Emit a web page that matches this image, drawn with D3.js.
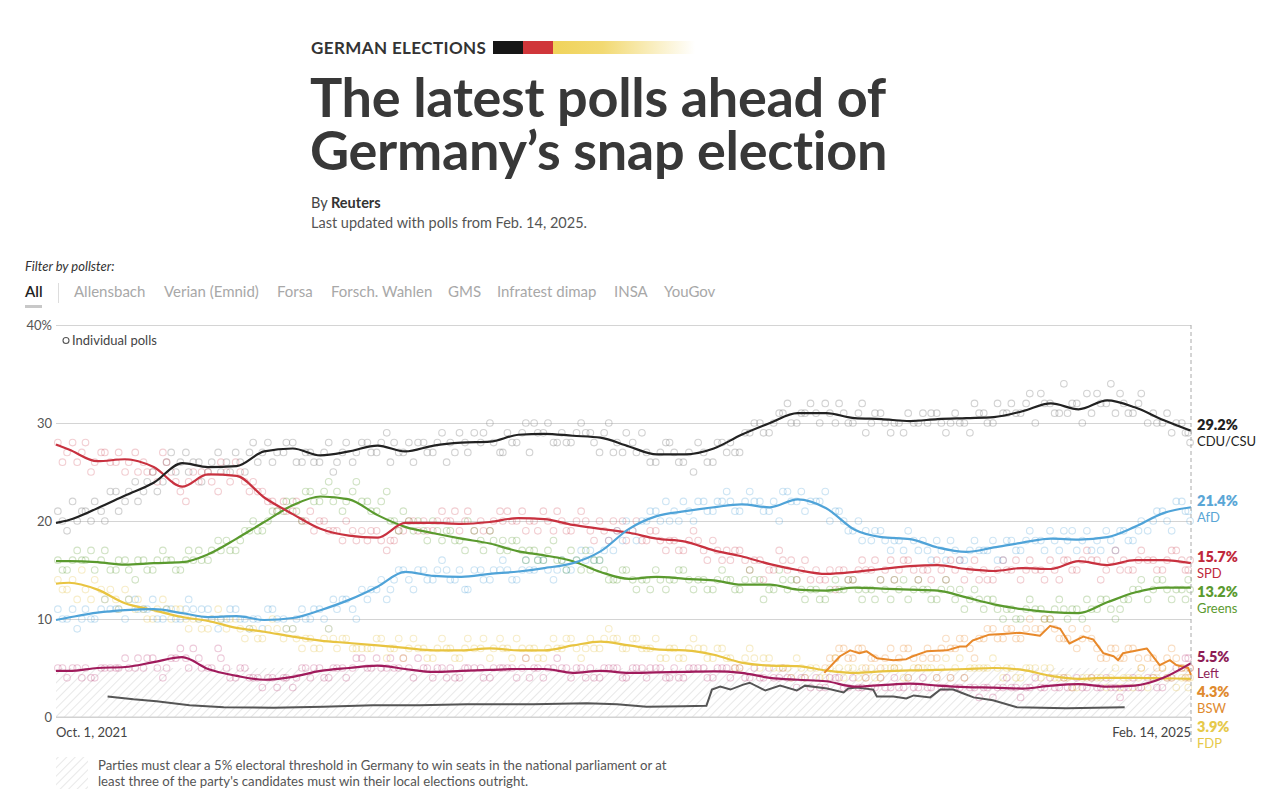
<!DOCTYPE html>
<html><head><meta charset="utf-8">
<script src="https://cdn.jsdelivr.net/npm/d3@7"></script>
<style>
body{margin:0;background:#fff;}
svg{display:block;font-family:Lato,"Open Sans",sans-serif;}
</style></head><body>
<svg id="chart" width="1280" height="811"></svg>
<script>
// ---------- DATA ----------
const parties = ["CDU/CSU","AfD","SPD","Greens","Left","BSW","FDP"];
const endValues = [29.2, 21.4, 15.7, 13.2, 5.5, 4.3, 3.9];
const yTicks = [0,10,20,30,40];
const xTickLabels = ["Oct. 1, 2021","Feb. 14, 2025"];
const pollsters = ["Allensbach","Verian (Emnid)","Forsa","Forsch. Wahlen","GMS","Infratest dimap","INSA","YouGov"];

const trendDates = ["2021-10-01","2021-10-15","2021-11-15","2021-12-15","2022-01-15","2022-02-15","2022-03-15","2022-04-15","2022-05-15","2022-06-15","2022-07-15","2022-08-15","2022-09-15","2022-10-15","2022-11-15","2022-12-15","2023-01-15","2023-02-15","2023-03-15","2023-04-15","2023-05-15","2023-06-15","2023-07-15","2023-08-15","2023-09-15","2023-10-15","2023-11-15","2023-12-15","2024-01-15","2024-02-15","2024-03-15","2024-04-15","2024-05-15","2024-06-15","2024-07-15","2024-08-15","2024-09-15","2024-10-15","2024-11-15","2024-12-15","2025-01-15","2025-02-14"];
const cduTrend = [19.8,20.1,21.3,22.6,23.9,25.9,25.5,25.6,27.1,27.4,26.7,27.1,27.7,27.1,27.7,28.0,28.1,28.8,28.9,28.7,28.5,27.6,26.8,26.8,27.4,28.8,30.0,31.0,31.0,30.5,30.4,30.2,30.4,30.5,30.6,31.2,32.0,31.4,32.3,31.6,30.3,29.2];
const afdTrend = [9.9,10.15,10.65,10.9,11.0,10.6,10.2,10.3,9.9,10.1,10.9,11.95,13.3,14.8,14.4,14.3,14.6,14.85,15.2,15.7,16.9,19.2,20.5,21.0,21.4,21.7,21.4,22.2,21.3,19.1,18.35,18.15,17.3,16.85,17.3,17.8,18.2,18.1,18.35,19.4,20.8,21.4];
const spdTrend = [27.8,27.3,26.1,26.3,25.5,23.5,24.75,24.6,22.4,20.7,19.2,18.5,18.3,19.8,19.8,19.7,19.9,20.3,20.2,19.6,19.2,18.8,18.2,17.9,17.0,16.4,15.6,15.0,14.6,14.8,15.1,15.4,15.5,15.1,14.9,15.2,15.1,15.9,15.5,16.0,16.0,15.7];
const greensTrend = [15.9,15.9,15.8,15.55,15.7,15.8,16.6,18.2,19.9,21.6,22.5,22.2,20.6,19.4,18.75,18.2,17.7,16.9,16.5,15.9,14.8,14.1,14.3,14.1,13.95,13.5,13.5,13.0,12.9,13.2,13.1,13.0,12.9,12.2,11.5,11.0,10.7,10.6,11.7,12.7,13.2,13.2];
const fdpTrend = [13.6,13.7,13.0,11.6,10.9,10.2,9.8,9.1,8.7,8.2,7.8,7.55,7.3,7.05,6.8,6.8,7.0,6.8,6.8,7.3,7.7,7.3,6.9,6.8,6.35,5.55,5.25,5.2,4.75,4.5,4.65,4.75,4.8,4.9,5.0,4.8,4.2,3.9,4.0,4.0,3.95,3.9];
const leftTrend = [4.7,4.7,5.0,5.1,5.6,6.1,4.9,4.2,3.8,4.1,4.7,5.0,5.25,4.9,4.6,4.7,4.8,4.9,4.9,4.5,4.7,4.5,4.55,4.6,4.65,4.5,4.0,3.8,3.65,3.1,3.25,3.4,3.2,3.05,3.0,2.9,3.2,3.35,3.1,3.2,4.0,5.5];

const bswDates = ["2024-01-13","2024-01-30","2024-02-10","2024-02-20","2024-02-28","2024-03-10","2024-03-28","2024-04-11","2024-04-18","2024-05-03","2024-05-25","2024-06-08","2024-06-15","2024-06-22","2024-07-10","2024-07-29","2024-08-12","2024-08-27","2024-09-03","2024-09-14","2024-09-25","2024-10-05","2024-10-20","2024-10-31","2024-11-11","2024-11-22","2024-11-27","2024-12-02","2024-12-28","2025-01-11","2025-01-22","2025-01-29","2025-02-11","2025-02-14"];
const bswTrend = [4.5,6.2,6.8,6.5,6.7,6.0,5.8,5.9,6.2,6.7,6.8,7.2,7.2,7.8,8.4,8.5,8.6,8.4,8.3,9.3,9.0,7.5,8.2,7.9,6.5,6.2,5.8,6.5,7.0,5.3,5.8,5.3,5.0,4.3];

const otherDates = ["2021-11-26","2021-12-24","2022-01-18","2022-02-23","2022-04-01","2022-05-25","2022-07-18","2022-09-10","2022-10-31","2022-12-21","2023-03-03","2023-04-30","2023-06-02","2023-07-04","2023-08-13","2023-09-07","2023-09-13","2023-09-22","2023-10-03","2023-10-17","2023-10-24","2023-11-10","2023-11-26","2023-12-14","2023-12-23","2024-01-16","2024-02-03","2024-02-08","2024-02-17","2024-03-06","2024-03-10","2024-03-28","2024-04-11","2024-04-19","2024-05-07","2024-05-18","2024-06-01","2024-06-12","2024-06-23","2024-07-14","2024-08-09","2024-10-02","2024-12-04"];
const otherTrend = [2.1,1.8,1.6,1.2,1.0,0.95,1.05,1.2,1.2,1.3,1.3,1.4,1.3,1.05,1.1,1.15,2.8,3.1,2.8,3.3,3.5,2.7,3.2,2.7,3.2,2.9,2.5,2.9,3.0,2.8,2.1,2.1,1.9,2.2,2.0,2.8,2.8,2.4,2.0,1.7,1.0,0.9,1.0];

// individual polls, batch A
const pollDates = ["2021-10-03","2021-10-13","2021-10-24","2021-11-02","2021-11-12","2021-11-23","2021-12-05","2021-12-15","2021-12-26","2022-01-04","2022-01-14","2022-01-25","2022-02-03","2022-02-13","2022-02-22","2022-03-05","2022-03-15","2022-03-26","2022-04-04","2022-04-14","2022-04-24","2022-05-03","2022-05-13","2022-05-24","2022-06-05","2022-06-15","2022-06-25","2022-07-04","2022-07-14","2022-07-24","2022-08-02","2022-08-12","2022-08-23","2022-09-04","2022-09-14","2022-09-25","2022-10-03","2022-10-13","2022-10-24","2022-11-04","2022-11-14","2022-11-24","2022-12-03","2022-12-13","2022-12-22","2023-01-05","2023-01-15","2023-01-26","2023-02-03","2023-02-13","2023-02-23","2023-03-04","2023-03-14","2023-03-25","2023-04-03","2023-04-13","2023-04-24","2023-05-04","2023-05-14","2023-05-24","2023-06-02","2023-06-12","2023-06-23","2023-07-04","2023-07-14","2023-07-25","2023-08-03","2023-08-13","2023-08-24","2023-09-04","2023-09-14","2023-09-24","2023-10-03","2023-10-13","2023-10-24","2023-11-04","2023-11-14","2023-11-25","2023-12-04","2023-12-14","2023-12-23","2024-01-04","2024-01-14","2024-01-25","2024-02-03","2024-02-13","2024-02-23","2024-03-04","2024-03-14","2024-03-25","2024-04-03","2024-04-13","2024-04-24","2024-05-04","2024-05-14","2024-05-24","2024-06-03","2024-06-13","2024-06-24","2024-07-04","2024-07-14","2024-07-25","2024-08-03","2024-08-13","2024-08-23","2024-09-04","2024-09-14","2024-09-24","2024-10-03","2024-10-13","2024-10-24","2024-11-04","2024-11-14","2024-11-24","2024-12-03","2024-12-13","2024-12-22","2025-01-04","2025-01-14","2025-01-24","2025-02-04","2025-02-11"];
const cduPolls = [21,19,20, 21,22,20, 23,22,24, 23,25,24, 27,26,25, 26,25,27, 26,27,25, 28,27,26, 27,28,26, 27,26,28, 26,28,27, 28,27,29, 28,27,26, 28,27,29, 28,29,27, 28,30,27, 29,28,30, 30,29,28, 29,28,30, 29,27,30, 28,29,27, 27,26,28, 27,26,25, 27,26,28, 28,27,29, 30,29,31, 32,30,31, 31,32,30, 31,30,32, 30,31,29, 30,31,30, 30,31,29, 31,30,32, 31,30,31, 32,31,33, 33,32,31, 31,32,33, 33,32,31, 32,31,33, 31,30,29, 30,29];
const afdPolls = [11,10,9, 11,10,12, 11,10,12, 11,12,10, 11,10,12, 10,11,9, 10,11,10, 10,9,11, 10,9,11, 10,11,9, 11,12,10, 12,13,12, 14,15,13, 15,14,16, 14,15,13, 15,14,15, 15,14,16, 15,16,14, 16,15,17, 17,16,18, 19,20,18, 20,21,22, 21,22,20, 22,21,22, 22,21,23, 22,21,20, 23,22,21, 22,23,21, 20,19,18, 18,19,17, 18,19,17, 17,18,16, 17,16,18, 17,18,16, 18,17,19, 18,19,17, 18,17,19, 18,19,17, 19,18,20, 20,21,19, 22,21];
const spdPolls = [28,27,26, 28,26,27, 26,25,27, 26,25,27, 25,23,24, 24,25,23, 25,26,24, 24,23,22, 22,21,20, 21,20,19, 19,20,18, 18,19,17, 18,19,20, 20,19,21, 20,19,21, 20,19,21, 21,20,19, 20,21,19, 20,19,21, 19,20,18, 19,18,20, 18,19,17, 18,17,19, 17,18,16, 16,17,15, 16,15,17, 15,14,16, 15,14,13, 15,14,16, 15,14,16, 15,16,14, 15,16,14, 15,14,16, 15,14,16, 15,14,16, 15,16,14, 16,15,17, 16,15,17, 16,15,17, 16,15,17, 16,15];
const greensPolls = [16,15,17, 16,15,17, 15,16,14, 16,15,17, 16,15,17, 17,16,18, 18,17,19, 20,19,21, 21,22,20, 23,22,24, 23,22,24, 22,21,23, 20,21,19, 19,20,18, 19,18,20, 18,19,17, 17,18,16, 17,16,18, 16,17,15, 15,16,14, 14,15,13, 14,15,13, 14,15,13, 14,13,15, 14,13,15, 14,13,15, 13,14,12, 13,12,14, 13,14,12, 13,14,12, 13,12,14, 13,12,14, 12,11,13, 11,12,10, 11,10,12, 11,10,12, 10,11,12, 11,12,10, 12,13,14, 13,14,12, 13,14];
const fdpPolls = [14,13,12, 13,14,12, 12,13,11, 11,10,12, 10,11,9, 10,9,11, 9,10,8, 9,8,10, 8,9,7, 8,7,9, 7,8,7, 7,8,6, 7,6,8, 7,6,8, 7,6,8, 7,6,8, 7,8,6, 7,6,8, 7,8,6, 8,7,9, 8,7,8, 7,8,6, 7,6,8, 7,6,7, 6,5,7, 5,6,5, 5,6,4, 5,4,6, 4,5,5, 5,4,5, 5,4,5, 5,4,6, 5,4,5, 5,6,4, 5,4,5, 4,5,4, 4,3,4, 4,3,5, 4,3,5, 4,5,4, 4,3];
const leftPolls = [5,4,5, 5,4,5, 5,6,5, 5,6,4, 6,7,5, 6,5,7, 5,4,5, 4,3,4, 4,3,5, 4,5,4, 5,4,6, 5,6,5, 5,6,4, 5,4,5, 5,4,5, 5,4,5, 5,4,6, 5,4,5, 5,4,5, 5,4,5, 5,4,5, 4,5,4, 5,4,5, 5,4,5, 4,5,4, 4,5,4, 4,3,4, 4,3,4, 3,4,3, 3,4,3, 3,4,3, 3,4,3, 3,4,3, 3,2,3, 3,2,3, 3,4,3, 3,4,3, 3,4,3, 3,4,3, 4,3,4, 5,6];
const bswPolls = [null,null,null, null,null,null, null,null,null, null,null,null, null,null,null, null,null,null, null,null,null, null,null,null, null,null,null, null,null,null, null,null,null, null,null,null, null,null,null, null,null,null, null,null,null, null,null,null, null,null,null, null,null,null, null,null,null, null,null,null, null,null,null, null,null,null, null,null,null, null,null,null, null,null,null, null,null,null, null,null,null, null,5,6, 7,6,7, 6,5,7, 6,7,5, 7,6,8, 7,8,6, 8,9,8, 9,8,10, 9,10,8, 8,7,9, 7,6,7, 6,7,5, 6,5,7, 5,4];

// individual polls, batch B
const pollDates2 = ["2021-10-08","2021-10-19","2021-10-29","2021-11-08","2021-11-19","2021-11-29","2021-12-08","2021-12-19","2021-12-29","2022-01-08","2022-01-19","2022-01-29","2022-02-08","2022-02-19","2022-02-27","2022-03-08","2022-03-19","2022-03-29","2022-04-08","2022-04-19","2022-04-29","2022-05-08","2022-05-19","2022-05-29","2022-06-08","2022-06-19","2022-06-29","2022-07-08","2022-07-19","2022-07-29","2022-08-08","2022-08-19","2022-08-29","2022-09-08","2022-09-19","2022-09-29","2022-10-08","2022-10-19","2022-10-29","2022-11-08","2022-11-19","2022-11-29","2022-12-08","2022-12-19","2022-12-29","2023-01-08","2023-01-19","2023-01-29","2023-02-08","2023-02-19","2023-02-27","2023-03-08","2023-03-19","2023-03-29","2023-04-08","2023-04-19","2023-04-29","2023-05-08","2023-05-19","2023-05-29","2023-06-08","2023-06-19","2023-06-29","2023-07-08","2023-07-19","2023-07-29","2023-08-08","2023-08-19","2023-08-29","2023-09-08","2023-09-19","2023-09-29","2023-10-08","2023-10-19","2023-10-29","2023-11-08","2023-11-19","2023-11-29","2023-12-08","2023-12-19","2023-12-29","2024-01-08","2024-01-19","2024-01-29","2024-02-08","2024-02-19","2024-02-27","2024-03-08","2024-03-19","2024-03-29","2024-04-08","2024-04-19","2024-04-29","2024-05-08","2024-05-19","2024-05-29","2024-06-08","2024-06-19","2024-06-29","2024-07-08","2024-07-19","2024-07-29","2024-08-08","2024-08-19","2024-08-29","2024-09-08","2024-09-19","2024-09-29","2024-10-08","2024-10-19","2024-10-29","2024-11-08","2024-11-19","2024-11-29","2024-12-08","2024-12-19","2024-12-29","2025-01-08","2025-01-19","2025-01-29","2025-02-08","2025-02-13"];
const cduPolls2 = [20,22,21, 20,21,23, 21,23,22, 24,23,26, 25,27,26, 24,26,25, 25,26,27, 26,28,27, 28,26,27, 26,27,25, 27,26,28, 27,28,26, 27,28,28, 27,28,26, 27,28,29, 29,28,27, 28,29,27, 29,30,28, 28,29,29, 28,29,27, 27,28,29, 26,27,28, 26,27,28, 26,28,27, 27,29,30, 29,30,31, 30,31,32, 30,31,32, 30,31,29, 31,30,30, 29,30,31, 31,30,30, 30,29,31, 30,32,31, 31,32,30, 32,31,34, 32,30,31, 32,34,33, 31,32,30, 30,31,30, 29,28];
const afdPolls2 = [10,11,10, 10,11,11, 11,12,11, 11,10,11, 10,11,11, 11,10,10, 11,10,9, 10,11,10, 9,10,10, 11,10,12, 12,11,13, 13,14,13, 15,14,15, 14,15,15, 14,13,15, 14,15,16, 14,15,15, 16,15,15, 15,16,16, 16,17,17, 18,19,20, 21,20,20, 20,21,22, 21,22,23, 21,22,22, 21,22,23, 22,23,22, 22,20,21, 19,20,19, 19,18,18, 17,18,18, 16,17,18, 16,17,17, 17,16,18, 17,18,18, 17,18,19, 19,18,17, 17,18,19, 18,19,19, 21,20,22, 21,20];
const spdPolls2 = [26,28,27, 25,27,26, 27,26,25, 25,24,26, 24,22,25, 25,24,26, 24,25,23, 23,22,21, 21,22,20, 19,20,19, 18,19,19, 19,18,18, 19,20,19, 19,20,20, 21,20,19, 19,20,20, 20,21,20, 19,20,21, 19,20,20, 18,19,20, 20,19,18, 19,18,18, 17,18,18, 16,17,17, 17,16,16, 14,15,16, 16,15,14, 14,15,15, 14,15,15, 16,15,14, 16,15,15, 14,15,16, 16,15,14, 14,15,15, 16,15,15, 14,15,16, 15,16,16, 14,16,15, 15,16,16, 15,16,17, 15,16];
const greensPolls2 = [15,16,16, 17,16,15, 16,15,16, 15,16,16, 15,16,16, 16,17,17, 17,18,19, 19,20,21, 22,21,23, 22,23,22, 21,23,22, 21,22,20, 19,20,20, 18,19,19, 18,17,19, 17,18,18, 18,17,17, 16,17,16, 15,16,17, 16,15,14, 15,14,14, 13,14,14, 15,14,14, 13,14,14, 13,14,14, 12,13,14, 14,13,13, 12,13,13, 14,13,13, 12,13,14, 14,13,13, 12,13,13, 13,12,12, 12,11,11, 10,11,11, 10,11,11, 11,10,11, 12,11,11, 12,13,12, 14,13,13, 12,13];
const fdpPolls2 = [13,14,15, 12,13,13, 11,12,12, 10,11,11, 11,10,10, 9,10,10, 10,9,9, 8,9,9, 9,8,8, 7,8,8, 8,7,7, 7,8,7, 8,7,7, 6,7,7, 6,7,7, 8,7,7, 6,7,7, 6,7,7, 8,7,7, 7,8,8, 7,8,7, 7,6,7, 6,7,7, 6,7,6, 5,6,6, 6,5,5, 4,5,5, 4,5,5, 5,4,4, 4,5,5, 4,5,5, 5,5,4, 6,5,5, 5,5,5, 4,5,5, 5,4,4, 3,4,4, 4,4,3, 4,4,3, 4,4,3, 5,4];
const leftPolls2 = [5,5,4, 4,5,5, 5,5,6, 6,5,5, 6,6,7, 5,5,6, 4,5,4, 4,4,3, 4,4,5, 5,4,5, 5,5,6, 5,5,6, 5,5,6, 5,5,4, 4,5,5, 4,5,5, 5,5,4, 5,5,6, 5,5,4, 4,5,5, 4,5,5, 5,5,4, 4,5,5, 4,5,5, 5,4,5, 4,4,5, 4,4,3, 3,4,4, 3,3,4, 3,3,4, 3,3,4, 3,3,4, 3,3,2, 3,3,4, 3,3,4, 3,3,4, 3,3,4, 3,3,2, 3,3,4, 3,4,5, 6,5];
const bswPolls2 = [null,null,null, null,null,null, null,null,null, null,null,null, null,null,null, null,null,null, null,null,null, null,null,null, null,null,null, null,null,null, null,null,null, null,null,null, null,null,null, null,null,null, null,null,null, null,null,null, null,null,null, null,null,null, null,null,null, null,null,null, null,null,null, null,null,null, null,null,null, null,null,null, null,null,null, null,null,null, null,null,null, null,6,7, 6,7,5, 6,6,5, 7,6,6, 6,7,7, 8,7,8, 9,8,9, 8,9,9, 10,9,8, 9,8,8, 6,7,6, 7,6,6, 5,6,6, 4,5];

const partyColors = ["#222222","#4fa3d8","#c8313f","#5a9a2e","#a01b5c","#e8892b","#e8c440"];
const labelColors = ["#222222","#5aa6d6","#c0283c","#5b9a2f","#8e1d56","#e08a2e","#e6c94a"];
const dotColors = ["#8a8a8a","#4fa3d8","#d0505e","#5a9a2e","#c0407a","#e8892b","#e2bf3c"];

// ---------- SETUP ----------
const svg = d3.select("#chart");
const parse = d3.timeParse("%Y-%m-%d");
const x = d3.scaleTime().domain([parse("2021-10-01"), parse("2025-02-14")]).range([56, 1191]);
const y = d3.scaleLinear().domain([0, 40]).range([717, 325]);

// ---------- HEADER ----------
svg.append("text").attr("x", 311).attr("y", 54).text("GERMAN ELECTIONS")
  .attr("font-size", 17).attr("font-weight", 700).attr("fill", "#333").attr("letter-spacing", 0.4);
const defs = svg.append("defs");
const gold = defs.append("linearGradient").attr("id", "goldFade").attr("x1", "0").attr("x2", "1");
gold.append("stop").attr("offset", "0").attr("stop-color", "#f0d35a").attr("stop-opacity", 1);
gold.append("stop").attr("offset", "0.35").attr("stop-color", "#f0d35a").attr("stop-opacity", 0.85);
gold.append("stop").attr("offset", "1").attr("stop-color", "#f0d35a").attr("stop-opacity", 0);
svg.append("rect").attr("x", 493).attr("y", 41).attr("width", 30).attr("height", 13).attr("fill", "#161616");
svg.append("rect").attr("x", 523).attr("y", 41).attr("width", 30).attr("height", 13).attr("fill", "#d0363a");
svg.append("rect").attr("x", 553).attr("y", 41).attr("width", 142).attr("height", 13).attr("fill", "url(#goldFade)");

const titleLines = ["The latest polls ahead of", "Germany\u2019s snap election"];
const title = svg.append("text").attr("font-size", 54).attr("font-weight", 700)
  .attr("fill", "#383838").attr("letter-spacing", -0.3);
title.selectAll("tspan").data(titleLines).join("tspan")
  .attr("x", 310).attr("y", (d, i) => 117 + i * 53).text(d => d);

const by = svg.append("text").attr("x", 311).attr("y", 208).attr("font-size", 14.5).attr("fill", "#444");
by.append("tspan").text("By ");
by.append("tspan").text("Reuters").attr("font-weight", 700).attr("fill", "#333");
svg.append("text").attr("x", 311).attr("y", 228).attr("font-size", 14.5).attr("fill", "#555")
  .text("Last updated with polls from Feb. 14, 2025.");

// ---------- FILTER ----------
svg.append("text").attr("x", 25).attr("y", 271).attr("font-size", 13).attr("font-style", "italic")
  .attr("fill", "#333").text("Filter by pollster:");
svg.append("text").attr("x", 25).attr("y", 297).attr("font-size", 15).attr("fill", "#222").attr("font-weight", 600).text("All");
svg.append("rect").attr("x", 25).attr("y", 305).attr("width", 17).attr("height", 3).attr("fill", "#c8c8c8");
svg.append("line").attr("x1", 58.5).attr("x2", 58.5).attr("y1", 283).attr("y2", 303).attr("stroke", "#ddd");
const pollX = [74, 164, 277, 331, 448, 497, 614, 664];
svg.selectAll("text.pollster").data(pollsters).join("text").attr("class", "pollster")
  .attr("x", (d, i) => pollX[i]).attr("y", 297).attr("font-size", 15).attr("fill", "#a8a8a8").text(d => d);

// ---------- GRID & AXES ----------
const grid = svg.append("g").attr("transform", "translate(56,0)")
  .call(d3.axisLeft(y).tickValues(yTicks).tickSize(-1135).tickFormat(d => d === 40 ? "40%" : d));
grid.select(".domain").remove();
grid.selectAll(".tick line").attr("stroke", "#d4d4d4");
grid.selectAll(".tick text").attr("x", -4).attr("dy", "0.32em").attr("font-size", 13).attr("fill", "#555")
  .attr("font-family", "Lato, sans-serif");

// hatch
const pat = defs.append("pattern").attr("id", "hatch").attr("patternUnits", "userSpaceOnUse")
  .attr("width", 6).attr("height", 6).attr("patternTransform", "rotate(45)");
pat.append("rect").attr("width", 6).attr("height", 6).attr("fill", "#fff");
pat.append("line").attr("x1", 0).attr("y1", 0).attr("x2", 0).attr("y2", 6).attr("stroke", "#dedede").attr("stroke-width", 1.4);
svg.append("rect").attr("x", x.range()[0]).attr("y", y(5)).attr("width", x.range()[1] - x.range()[0])
  .attr("height", y(0) - y(5)).attr("fill", "url(#hatch)");
svg.append("line").attr("x1", 56).attr("x2", 1191).attr("y1", y(0)).attr("y2", y(0)).attr("stroke", "#d0d0d0");

// ---------- POLL DOTS ----------
const pollSets = [cduPolls, afdPolls, spdPolls, greensPolls, leftPolls, bswPolls, fdpPolls];
const pollSets2 = [cduPolls2, afdPolls2, spdPolls2, greensPolls2, leftPolls2, bswPolls2, fdpPolls2];
const dots = svg.append("g");
function drawDots(dates, sets) {
  sets.forEach((vals, pi) => {
    const pts = dates.map((d, i) => ({ d: parse(d), v: vals[i] })).filter(p => p.v != null);
    dots.append("g").selectAll("circle").data(pts).join("circle")
      .attr("cx", p => x(p.d)).attr("cy", p => y(p.v)).attr("r", 3.3)
      .attr("fill", "none").attr("stroke", dotColors[pi]).attr("stroke-width", 1.1)
      .attr("stroke-opacity", pi === 0 ? 0.38 : 0.28);
  });
}
drawDots(pollDates, pollSets);
drawDots(pollDates2, pollSets2);

// ---------- LINES ----------
const smooth = d3.line().x(p => x(p.d)).y(p => y(p.v)).curve(d3.curveMonotoneX);
const linear = d3.line().x(p => x(p.d)).y(p => y(p.v)).curve(d3.curveLinear);
const toPts = (dates, vals) => dates.map((d, i) => ({ d: parse(d), v: vals[i] }));

svg.append("path").attr("d", linear(toPts(otherDates, otherTrend))).attr("fill", "none")
  .attr("stroke", "#555").attr("stroke-width", 2);
const trends = [cduTrend, afdTrend, spdTrend, greensTrend, leftTrend, null, fdpTrend];
[6, 3, 2, 1, 0].forEach(pi => {
  svg.append("path").attr("d", smooth(toPts(trendDates, trends[pi]))).attr("fill", "none")
    .attr("stroke", partyColors[pi]).attr("stroke-width", 2.2).attr("stroke-linejoin", "round");
});
svg.append("path").attr("d", linear(toPts(bswDates, bswTrend))).attr("fill", "none")
  .attr("stroke", partyColors[5]).attr("stroke-width", 2).attr("stroke-linejoin", "round");
svg.append("path").attr("d", smooth(toPts(trendDates, leftTrend))).attr("fill", "none")
  .attr("stroke", partyColors[4]).attr("stroke-width", 2.2);

// ---------- LEGEND ----------
svg.append("circle").attr("cx", 66).attr("cy", 340.5).attr("r", 3).attr("fill", "none").attr("stroke", "#555").attr("stroke-width", 1.1);
svg.append("text").attr("x", 72).attr("y", 345).attr("font-size", 13).attr("fill", "#444").text("Individual polls");

// ---------- END MARKER & X LABELS ----------
svg.append("line").attr("x1", 1191).attr("x2", 1191).attr("y1", 325).attr("y2", 742)
  .attr("stroke", "#aaa").attr("stroke-dasharray", "4,3");
svg.append("text").attr("x", x.range()[0]).attr("y", 737).attr("font-size", 13).attr("fill", "#444").text(xTickLabels[0]);
svg.append("text").attr("x", x.range()[1]).attr("y", 737).attr("font-size", 13).attr("fill", "#444")
  .attr("text-anchor", "end").text(xTickLabels[1]);

// ---------- END LABELS ----------
let prev = -Infinity;
const labelY = endValues.map(v => {
  let c = y(v) - 6;
  if (c < prev + 35) c = prev + 35;
  prev = c;
  return c;
});
parties.forEach((p, i) => {
  svg.append("text").attr("x", 1197).attr("y", labelY[i] + 5).attr("font-size", 14.5).attr("font-weight", 800)
    .attr("fill", labelColors[i]).text(endValues[i].toFixed(1) + "%");
  svg.append("text").attr("x", 1197).attr("y", labelY[i] + 21).attr("font-size", 13)
    .attr("fill", labelColors[i]).text(p);
});

// ---------- FOOTNOTE ----------
svg.append("rect").attr("x", 56).attr("y", 757).attr("width", 32).attr("height", 32).attr("fill", "url(#hatch)");
const notes = ["Parties must clear a 5% electoral threshold in Germany to win seats in the national parliament or at",
               "least three of the party's candidates must win their local elections outright."];
svg.selectAll("text.note").data(notes).join("text").attr("class", "note")
  .attr("x", 98).attr("y", (d, i) => 770 + i * 15.5).attr("font-size", 13.2).attr("fill", "#555").text(d => d);
</script></body></html>
